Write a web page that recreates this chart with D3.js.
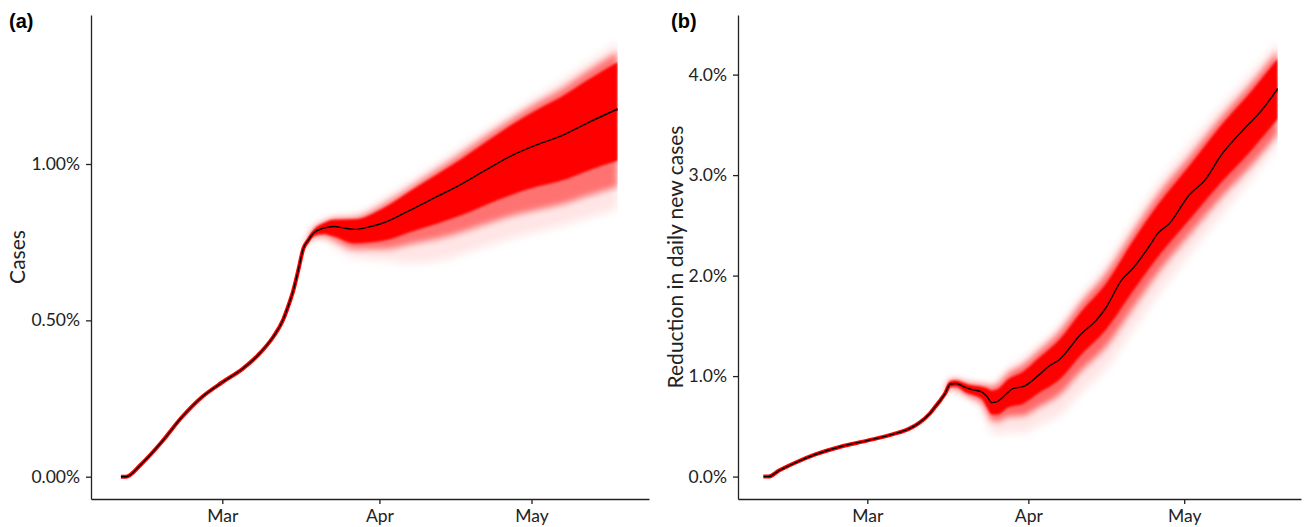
<!doctype html>
<html lang="en">
<head>
<meta charset="utf-8">
<title>Cases and reduction in daily new cases</title>
<script src="https://d3js.org/d3.v7.min.js"></script>
<style>
body { margin: 0; background: #fff; }
svg { display: block; }
.axis path, .axis line { stroke: #222; stroke-width: 1.3px; }
.axis text { font-family: Lato, sans-serif; font-size: 17.5px; fill: #222; }
.ytitle { font-family: Lato, sans-serif; font-size: 21px; fill: #222; }
.tag { font-family: "Liberation Sans", Arial, sans-serif; font-weight: bold; font-size: 20px; fill: #000; }
</style>
</head>
<body>
<svg width="1304" height="527"></svg>
<script>
// ---- panel (a): cases ----
var datesA = ['2020-02-10','2020-02-11','2020-02-14','2020-02-18','2020-02-22','2020-02-26',
  '2020-03-01','2020-03-05','2020-03-08','2020-03-11','2020-03-13','2020-03-14','2020-03-15',
  '2020-03-16','2020-03-17','2020-03-18','2020-03-19','2020-03-21','2020-03-23','2020-03-25',
  '2020-03-27','2020-03-30','2020-04-02','2020-04-07','2020-04-12','2020-04-17','2020-04-22',
  '2020-04-27','2020-05-02','2020-05-07','2020-05-12','2020-05-18'];
var casesMedian = [0.000,0.000,0.040,0.110,0.190,0.255,
  0.302,0.345,0.388,0.446,0.502,0.545,0.595,
  0.661,0.730,0.757,0.779,0.795,0.800,0.795,
  0.791,0.799,0.813,0.852,0.893,0.934,0.981,
  1.026,1.061,1.091,1.131,1.176];

// spread of the simulated runs (inner = dense, outer = faintest)
var bandDatesA = ['2020-03-17','2020-03-19','2020-03-21','2020-03-23','2020-03-27','2020-04-02',
  '2020-04-07','2020-04-12','2020-04-17','2020-04-22','2020-04-27','2020-05-02','2020-05-07',
  '2020-05-12','2020-05-18'];
var casesInnerLo = [.727,.769,.776,.768,.746,.755,.782,.807,.835,.869,.901,.927,.947,.978,1.010];
var casesInnerHi = [.733,.789,.811,.822,.823,.861,.913,.963,1.014,1.070,1.125,1.173,1.216,1.268,1.326];
var casesMidLo   = [.727,.766,.769,.755,.727,.727,.743,.759,.781,.808,.834,.853,.871,.898,.927];
var casesMidHi   = [.733,.792,.814,.826,.829,.874,.925,.979,1.033,1.090,1.144,1.195,1.241,1.297,1.358];
var casesOuterLo = [.727,.760,.760,.736,.702,.692,.683,.689,.710,.738,.761,.783,.803,.827,.857];
var casesOuterHi = [.733,.795,.817,.829,.836,.890,.941,.995,1.052,1.106,1.160,1.214,1.267,1.323,1.390];
var ticksA = [0, 0.5, 1.0];

// ---- panel (b): reduction in daily new cases ----
var datesB = ['2020-02-10','2020-02-11','2020-02-13','2020-02-16','2020-02-20','2020-02-25',
  '2020-03-01','2020-03-06','2020-03-09','2020-03-11','2020-03-13','2020-03-14','2020-03-15',
  '2020-03-16','2020-03-17','2020-03-18','2020-03-20','2020-03-21','2020-03-23','2020-03-24',
  '2020-03-25','2020-03-26','2020-03-28','2020-03-29','2020-03-31','2020-04-03','2020-04-05',
  '2020-04-07','2020-04-08','2020-04-11','2020-04-14','2020-04-16','2020-04-19','2020-04-21',
  '2020-04-24','2020-04-26','2020-04-28','2020-05-02','2020-05-05','2020-05-08','2020-05-12',
  '2020-05-16','2020-05-19'];
var reductionMedian = [0.000,0.000,0.060,0.135,0.220,0.300,
  0.358,0.422,0.475,0.535,0.625,0.690,0.755,
  0.829,0.922,0.927,0.885,0.868,0.842,0.800,
  0.736,0.747,0.835,0.876,0.895,1.010,1.100,
  1.165,1.220,1.412,1.550,1.685,1.960,2.065,
  2.270,2.425,2.510,2.805,2.950,3.190,3.430,
  3.650,3.860];

var bandDatesB = ['2020-03-16','2020-03-17','2020-03-18','2020-03-20','2020-03-21','2020-03-23',
  '2020-03-24','2020-03-25','2020-03-26','2020-03-28','2020-03-31','2020-04-03','2020-04-07',
  '2020-04-11','2020-04-16','2020-04-21','2020-04-26','2020-05-02','2020-05-08','2020-05-14',
  '2020-05-19'];
var redInnerLo = [.819,.892,.897,.835,.818,.775,.690,.617,.618,.686,.726,.831,.966,1.203,1.466,1.836,2.191,2.556,2.921,3.251,3.561];
var redInnerHi = [.839,.952,.957,.925,.908,.895,.880,.855,.866,.964,1.044,1.179,1.364,1.631,1.924,2.334,2.709,3.094,3.489,3.839,4.159];
var redMidLo   = [.819,.882,.877,.815,.788,.736,.641,.557,.548,.596,.606,.692,.817,1.044,1.297,1.667,2.032,2.407,2.772,3.102,3.412];
var redMidHi   = [.839,.962,.967,.935,.928,.915,.909,.895,.916,1.024,1.114,1.249,1.444,1.720,2.023,2.423,2.808,3.183,3.568,3.918,4.238];
var redOuterLo = [.819,.872,.867,.795,.759,.686,.551,.438,.419,.437,.437,.512,.608,.825,1.078,1.448,1.813,2.208,2.593,2.963,3.303];
var redOuterHi = [.839,.972,.977,.945,.938,.925,.919,.915,.946,1.074,1.174,1.309,1.503,1.790,2.113,2.523,2.918,3.303,3.678,4.018,4.328];
var ticksB = [0, 1, 2, 3, 4];

var parse = d3.timeParse('%Y-%m-%d');
var MAR1 = parse('2020-03-01'), MAY1 = parse('2020-05-01');
var svg = d3.select('svg');

var defs = svg.append('defs');
[['soft1', 0.8], ['soft2', 3], ['soft3', 4]].forEach(function(f){
  defs.append('filter').attr('id', f[0])
      .attr('x', '-10%').attr('y', '-30%').attr('width', '120%').attr('height', '160%')
    .append('feGaussianBlur').attr('stdDeviation', f[1]);
});

// x scale pinned on the Mar / May ticks, then widened to the panel edges
function makeX(marX, mayX, x0, x1){
  var s = d3.scaleTime().domain([MAR1, MAY1]).range([marX, mayX]);
  return s.domain([s.invert(x0), s.invert(x1)]).range([x0, x1]);
}
function makeY(v1, y0, y1, top, bottom){
  var s = d3.scaleLinear().domain([0, v1]).range([y0, y1]);
  return s.domain([s.invert(bottom), s.invert(top)]).range([bottom, top]);
}

function panel(p){
  var g = svg.append('g');
  var dates = p.dates.map(parse), bdates = p.bandDates.map(parse);
  var x = p.x, y = p.y;

  var clipId = 'clip-' + p.tag;
  defs.append('clipPath').attr('id', clipId)
    .append('rect')
      .attr('x', x(dates[0]) - 20).attr('y', 0)
      .attr('width', x(dates[dates.length - 1]) - x(dates[0]) + 20).attr('height', 527);

  var line = d3.line()
    .x(function(d, i){ return x(dates[i]); })
    .y(function(d){ return y(d); })
    .curve(d3.curveMonotoneX);

  var plot = g.append('g').attr('clip-path', 'url(#' + clipId + ')');

  // red halo of the runs along the tight part
  plot.append('path')
    .attr('d', line(p.median))
    .attr('fill', 'none').attr('stroke', '#ff0000').attr('stroke-width', 4);

  p.bands.forEach(function(b){
    var area = d3.area()
      .x(function(d, i){ return x(bdates[i]); })
      .y0(function(d, i){ return y(b.lo[i]); })
      .y1(function(d){ return y(d); })
      .curve(d3.curveMonotoneX);
    plot.append('path')
      .attr('d', area(b.hi))
      .attr('fill', '#ff0000')
      .attr('fill-opacity', b.op)
      .attr('filter', 'url(#' + b.blur + ')');
  });

  plot.append('path')
    .attr('d', line(p.median))
    .attr('fill', 'none').attr('stroke', '#000').attr('stroke-width', 1.4);

  g.append('g').attr('class', 'axis')
    .attr('transform', 'translate(' + x.range()[0] + ',0)')
    .call(d3.axisLeft(y).tickValues(p.ticks).tickFormat(p.fmt)
      .tickSize(5).tickPadding(6).tickSizeOuter(0));

  g.append('g').attr('class', 'axis')
    .attr('transform', 'translate(0,' + y.range()[0] + ')')
    .call(d3.axisBottom(x).ticks(d3.timeMonth.every(1)).tickFormat(d3.timeFormat('%b'))
      .tickSize(5).tickPadding(6).tickSizeOuter(0))
    .selectAll('.tick').filter(function(d){ return d < MAR1; }).remove();

  g.append('text').attr('class', 'ytitle')
    .attr('transform', 'translate(' + p.titleX + ',257) rotate(-90)')
    .attr('text-anchor', 'middle')
    .text(p.title);

  g.append('text').attr('class', 'tag')
    .attr('x', p.tagX).attr('y', 28)
    .text('(' + p.tag + ')');
}

panel({
  tag: 'a', tagX: 9, title: 'Cases', titleX: 25,
  dates: datesA, median: casesMedian, bandDates: bandDatesA,
  bands: [
    { lo: casesOuterLo, hi: casesOuterHi, op: 0.1, blur: 'soft3' },
    { lo: casesMidLo, hi: casesMidHi, op: 0.5, blur: 'soft2' },
    { lo: casesInnerLo, hi: casesInnerHi, op: 1, blur: 'soft1' }
  ],
  x: makeX(222.3, 531.5, 91, 649),
  y: makeY(1.0, 476.7, 164, 15, 499),
  ticks: ticksA, fmt: function(d){ return d.toFixed(2) + '%'; }
});

panel({
  tag: 'b', tagX: 671, title: 'Reduction in daily new cases', titleX: 683,
  dates: datesB, median: reductionMedian, bandDates: bandDatesB,
  bands: [
    { lo: redOuterLo, hi: redOuterHi, op: 0.1, blur: 'soft3' },
    { lo: redMidLo, hi: redMidHi, op: 0.55, blur: 'soft2' },
    { lo: redInnerLo, hi: redInnerHi, op: 1, blur: 'soft1' }
  ],
  x: makeX(867.3, 1184.2, 738, 1301),
  y: makeY(4.0, 476.6, 74.6, 15, 499),
  ticks: ticksB, fmt: function(d){ return d.toFixed(1) + '%'; }
});
</script>
</body>
</html>
